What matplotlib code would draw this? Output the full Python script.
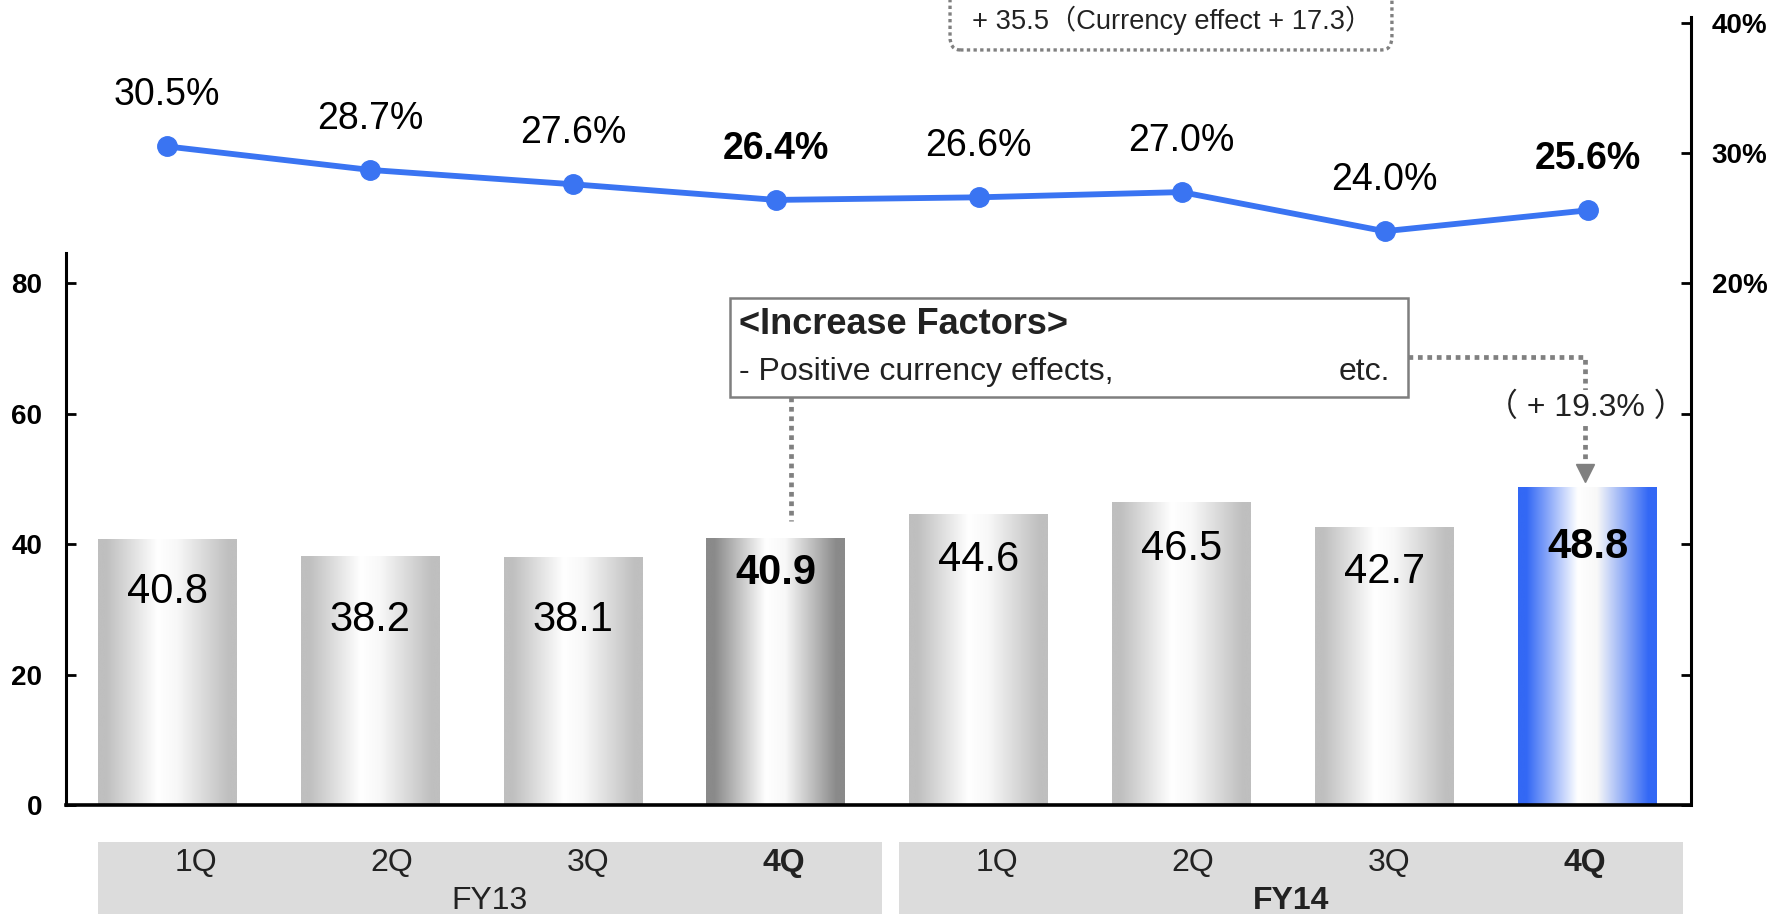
import numpy as np
import matplotlib
matplotlib.use("Agg")
import matplotlib.pyplot as plt
from matplotlib.colors import LinearSegmentedColormap
from matplotlib.patches import Rectangle, FancyBboxPatch
from matplotlib.ticker import FixedLocator, FixedFormatter

plt.rcParams['font.family'] = ['Liberation Sans', 'Noto Sans CJK JP', 'DejaVu Sans']

# ---------------- data ----------------
quarters = ['1Q', '2Q', '3Q', '4Q', '1Q', '2Q', '3Q', '4Q']
fiscal_years = ['FY13', 'FY14']
bar_values = [40.8, 38.2, 38.1, 40.9, 44.6, 46.5, 42.7, 48.8]
pct_values = [30.5, 28.7, 27.6, 26.4, 26.6, 27.0, 24.0, 25.6]
highlight = [False, False, False, True, False, False, False, True]
bar_styles = ['gray', 'gray', 'gray', 'dark', 'gray', 'gray', 'gray', 'blue']
left_ticks = [0, 20, 40, 60, 80]
right_ticks = [-20, -10, 0, 10, 20, 30, 40]
right_labels = ['', '', '', '', '20%', '30%', '40%']
bar_label_offsets = [38, 46, 46, 25, 33, 34, 33, 43]   # points below bar top
top_note = '+ 35.5（Currency effect + 17.3）'
factor_title = '<Increase Factors>'
factor_line = '- Positive currency effects,'
factor_etc = 'etc.'
growth_note = '（ + 19.3% ）'

# ---------------- figure ----------------
W, H = 1789, 914
fig = plt.figure(figsize=(W / 100, H / 100), dpi=100)
ax = fig.add_axes([66 / W, (H - 805) / H, (1691 - 66) / W, (805 - 16.7) / H])
ax2 = ax.twinx()

x = np.arange(len(bar_values))
bars = ax.bar(x, bar_values, width=0.685, facecolor='none', edgecolor='none', zorder=2)

edge_cols = {'gray': '#bfbfbf', 'dark': '#8a8a8a', 'blue': '#3368f5'}
for b, st in zip(bars, bar_styles):
    e = edge_cols[st]
    cmap = LinearSegmentedColormap.from_list(
        'g' + st, [(0, e), (0.06, e), (0.43, '#ffffff'), (0.57, '#f8f8f8'), (0.94, e), (1, e)])
    grad = np.linspace(0, 1, 256).reshape(1, -1)
    x0, w, h = b.get_x(), b.get_width(), b.get_height()
    im = ax.imshow(grad, cmap=cmap, extent=[x0, x0 + w, 0, h], aspect='auto',
                   interpolation='bicubic', zorder=2)
    im.set_clip_path(b)

for xi, v, hl, off in zip(x, bar_values, highlight, bar_label_offsets):
    ax.annotate(f'{v:.1f}', (xi, v), xytext=(0, -off), textcoords='offset points',
                ha='center', va='center', fontsize=30,
                fontweight='bold' if hl else 'normal', color='black', zorder=5)

ax.set_xlim(-0.499, 7.510)
ax.set_ylim(0, 120.9)
ax.spines['top'].set_visible(False)
ax.spines['right'].set_visible(False)
ax.spines['left'].set_bounds(0, 84.7)
ax.spines['left'].set_linewidth(2.2)
ax.spines['bottom'].set_linewidth(2.6)
ax.set_xticks([])
ax.yaxis.set_major_locator(FixedLocator(left_ticks))
ax.tick_params(axis='y', direction='in', length=7, width=2, labelsize=20, pad=17)
for t in ax.get_yticklabels():
    t.set_fontweight('bold')

# right axis / line
ax2.set_ylim(-20, 40.45)
ax2.plot(x, pct_values, color='#3a74f2', lw=4.2, marker='o', markersize=14,
         markerfacecolor='#3a74f2', markeredgecolor='#3a74f2', zorder=4, clip_on=False)
for xi, p, hl in zip(x, pct_values, highlight):
    ax2.annotate(f'{p:.1f}%', (xi, p), xytext=(0, 37), textcoords='offset points',
                 ha='center', va='center', fontsize=27,
                 fontweight='bold' if hl else 'normal', color='black')
for s in ['top', 'left', 'bottom']:
    ax2.spines[s].set_visible(False)
ax2.spines['right'].set_linewidth(2.2)
ax2.yaxis.set_major_locator(FixedLocator(right_ticks))
ax2.yaxis.set_major_formatter(FixedFormatter(right_labels))
ax2.tick_params(axis='y', direction='in', length=7, width=2, labelsize=20, pad=15)
for t in ax2.get_yticklabels():
    t.set_fontweight('bold')

# ---------------- annotations ----------------
dot_col = '#808080'
# top dotted box
tb = FancyBboxPatch((3.858, 115.8), 6.036 - 3.858, 20, boxstyle='round,pad=0,rounding_size=0.05',
                    linestyle=(0, (1, 1)), linewidth=2.4, edgecolor=dot_col, facecolor='none',
                    clip_on=False, mutation_aspect=40)
ax.add_patch(tb)
ax.text(4.955, 120.3, top_note, ha='center', va='center', fontsize=19.6, color='#222222',
        clip_on=False)

# increase factor box
ax.add_patch(Rectangle((2.774, 62.6), 6.115 - 2.774, 77.8 - 62.6, facecolor='white',
                       edgecolor='#7f7f7f', linewidth=1.8, zorder=6))
ax.text(2.818, 73.7, factor_title, ha='left', va='center', fontsize=26, fontweight='bold',
        color='#222222', zorder=7)
ax.text(2.818, 66.4, factor_line, ha='left', va='center', fontsize=23, color='#222222', zorder=7)
ax.text(6.027, 66.4, factor_etc, ha='right', va='center', fontsize=23, color='#222222', zorder=7)

# connectors
ax.plot([3.074, 3.074], [62.6, 43.6], color=dot_col, lw=3.4, linestyle=(0, (1, 1)), zorder=5)
ax.plot([6.115, 6.99, 6.99], [68.7, 68.7, 52.5], color=dot_col, lw=3.4,
        linestyle=(0, (1, 1)), zorder=5, solid_joinstyle='miter')
ax.plot([6.99], [50.9], marker='v', markersize=13, color=dot_col, zorder=5)
ax.text(6.99, 60.9, growth_note, ha='center', va='center', fontsize=23, color='#222222',
        zorder=6, bbox=dict(facecolor='white', edgecolor='none', pad=2))

# ---------------- category band ----------------
bx = fig.add_axes([98 / W, 0, (1683 - 98) / W, (914 - 842) / H])
bx.set_xlim(0, 8)
bx.set_ylim(0, 1)
bx.axis('off')
box_spans = [(0, 3.957), (4.043, 8)]
for k, (a, bnd) in enumerate(box_spans):
    bx.add_patch(Rectangle((a, 0), bnd - a, 1.0, facecolor='#dcdcdc', edgecolor='none',
                           clip_on=False))
    cw = (bnd - a) / 4
    for j in range(4):
        i = 4 * k + j
        bx.text(a + (j + 0.5) * cw, 0.71, quarters[i], ha='center', va='center', fontsize=23,
                fontweight='bold' if highlight[i] else 'normal', color='#222222')
    bx.text((a + bnd) / 2, 0.18, fiscal_years[k], ha='center', va='center', fontsize=23,
            fontweight='bold' if k == 1 else 'normal', color='#222222')

fig.savefig('out.png', dpi=100)
